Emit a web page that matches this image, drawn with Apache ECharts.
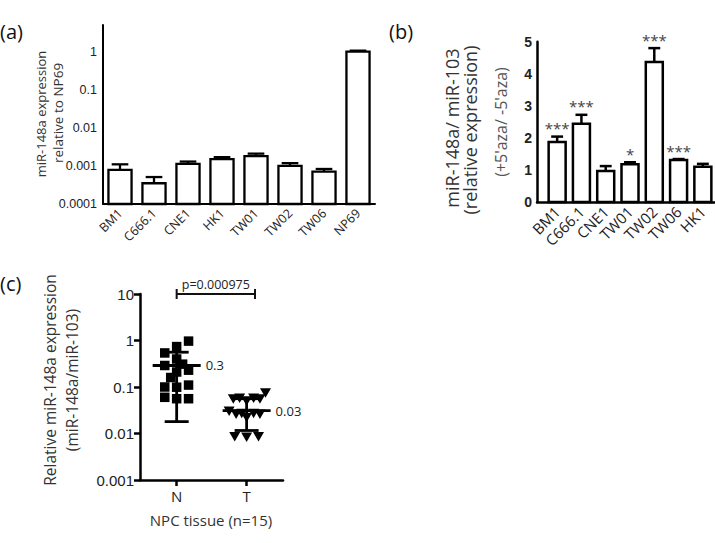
<!DOCTYPE html>
<html><head><meta charset="utf-8">
<script src="https://cdn.jsdelivr.net/npm/echarts@6/dist/echarts.min.js"></script>
<style>html,body{margin:0;padding:0;background:#fff}#c{width:715px;height:543px}</style>
</head><body><div id="c"></div>
<script>
// ---------- Panel (a) ----------
const aCategories = ['BM1','C666.1','CNE1','HK1','TW01','TW02','TW06','NP69'];
const aValues     = [0.00079,0.00035,0.00113,0.0015,0.0018,0.001,0.00071,1.0];
const aErrorTop   = [0.0011,0.00051,0.0013,0.0017,0.0021,0.00118,0.00083,1.06];
const aTicks      = [0.0001,0.001,0.01,0.1,1];
const aYTitle     = ['miR-148a expression','relative to NP69'];

// ---------- Panel (b) ----------
const bCategories = ['BM1','C666.1','CNE1','TW01','TW02','TW06','HK1'];
const bValues     = [1.87,2.44,0.97,1.18,4.37,1.31,1.10];
const bErrorTop   = [2.04,2.72,1.12,1.24,4.80,1.34,1.19];
const bStars      = ['***','***','','*','***','***',''];
const bYTitle     = ['miR-148a/ miR-103','(relative expression)','(+5\'aza/ -5\'aza)'];

// ---------- Panel (c) ----------
const cCategories = ['N','T'];
const cNValues = [0.97,0.74,0.54,0.40,0.29,0.31,0.23,0.21,0.16,0.10,0.099,0.11,0.06,0.056,0.056];
const cNSpread = [0.17,0,-0.17,0,-0.17,0.085,0.17,0,-0.085,-0.17,0,0.17,-0.17,0,0.17];
const cTValues = [0.074,0.055,0.057,0.05,0.057,0.055,0.03,0.026,0.027,0.022,0.027,0.026,0.0085,0.0083,0.0085];
const cTSpread = [0.27,-0.19,-0.1,0,0.1,0.19,-0.25,-0.15,-0.07,0,0.1,0.19,-0.17,0,0.17];
const cMeans   = [0.29,0.031];
const cSdLow   = [0.018,0.0116];
const cSdHigh  = [0.56,0.056];
const cMeanLabels = ['0.3','0.03'];
const cPText   = 'p=0.000975';
const cBracket = [0,1.12,10];
const cYTitle  = ['Relative miR-148a expression','(miR-148a/miR-103)'];
const cXTitle  = 'NPC tissue (n=15)';

const SANS = '"Open Sans", sans-serif';
const ARIAL = '"Liberation Sans", Arial, sans-serif';
const TXT = '#222';
const TITLE = '#333';

function logLabel(v){ return String(+(+v).toPrecision(1)); }

function barErrRender(capFrac, lw, barFrac, minVal, stars){
  return function(params, api){
    const i = api.value(0);
    const top = api.coord([i, api.value(1)]);
    const err = api.coord([i, api.value(2)]);
    const bot = api.coord([i, minVal]);
    const band = Math.abs(api.coord([1, api.value(1)])[0] - api.coord([0, api.value(1)])[0]);
    const w = band * barFrac, cw = w * capFrac;
    const children = [
      {type:'line', shape:{x1:err[0],y1:top[1],x2:err[0],y2:err[1]}, style:{stroke:'#000',lineWidth:lw}},
      {type:'line', shape:{x1:err[0]-cw/2,y1:err[1],x2:err[0]+cw/2,y2:err[1]}, style:{stroke:'#000',lineWidth:lw}},
      {type:'rect', shape:{x:top[0]-w/2,y:top[1],width:w,height:bot[1]-top[1]}, style:{fill:'#fff',stroke:'#000',lineWidth:lw}}
    ];
    if (stars && stars[params.dataIndex]) {
      children.push({type:'text', x:err[0], y:err[1]-1, style:{text:stars[params.dataIndex], align:'center', verticalAlign:'bottom', textAlign:'center', textVerticalAlign:'bottom', font:'15px '+SANS, fill:'#444'}});
    }
    return {type:'group', children};
  };
}

const chart = echarts.init(document.getElementById('c'), null, {renderer:'svg', width:715, height:543});

function rotText(x, y, text, size, fill){
  return {type:'text', x, y, rotation:Math.PI/2, style:{text, font:size+'px '+SANS, fill, align:'center', verticalAlign:'middle', textAlign:'center', textVerticalAlign:'middle'}};
}
function plainText(x, y, text, size){
  return {type:'text', x, y, style:{text, font:size+'px '+SANS, fill:'#111', align:'left', verticalAlign:'middle'}};
}

const axisLineBlack = (w)=>({show:true, onZero:false, lineStyle:{color:'#000', width:w}});

chart.setOption({
  animation:false,
  backgroundColor:'#fff',
  grid:[
    {left:103, top:25, width:272, height:179, outerBoundsMode:'none'},
    {left:545, top:41.7, width:170, height:160.3, outerBoundsMode:'none'},
    {left:537, top:41.7, width:178, height:160.3, outerBoundsMode:'none'},
    {left:140, top:294, width:143, height:186, outerBoundsMode:'none'}
  ],
  xAxis:[
    {type:'category', gridIndex:0, data:aCategories, axisLine:axisLineBlack(2),
     axisTick:{alignWithLabel:true, length:5, lineStyle:{color:'#000',width:2}},
     axisLabel:{rotate:45, margin:7, fontSize:12.5, fontFamily:SANS, color:TXT, interval:0}},
    {type:'category', gridIndex:1, data:bCategories, axisLine:{show:false},
     axisTick:{alignWithLabel:true, length:5, lineStyle:{color:'#000',width:2.5}},
     axisLabel:{rotate:45, margin:7, fontSize:15, fontFamily:SANS, color:TXT, interval:0}},
    {type:'value', gridIndex:2, min:0, max:1, axisLine:axisLineBlack(2.5), axisTick:{show:false}, axisLabel:{show:false}, splitLine:{show:false}},
    {type:'value', gridIndex:3, min:-0.524, max:1.52, axisLine:axisLineBlack(2.5),
     axisTick:{length:6, lineStyle:{color:'#000',width:2.5}, customValues:[0,1]},
     axisLabel:{customValues:[0,1], formatter:(v)=>cCategories[Math.round(v)], fontSize:15, fontFamily:SANS, color:TXT, margin:8},
     splitLine:{show:false}}
  ],
  yAxis:[
    {type:'log', logBase:10, gridIndex:0, min:0.0001, max:5, axisLine:axisLineBlack(2),
     axisTick:{length:5, lineStyle:{color:'#000',width:2}, customValues:aTicks},
     axisLabel:{customValues:aTicks, formatter:logLabel, fontSize:12.5, fontFamily:ARIAL, color:TXT, margin:6},
     splitLine:{show:false}, minorTick:{show:false}},
    {type:'value', gridIndex:1, min:0, max:5, interval:1, offset:8, axisLine:axisLineBlack(2.5),
     axisTick:{length:5, lineStyle:{color:'#000',width:2.5}},
     axisLabel:{fontSize:14, fontWeight:'bold', fontFamily:ARIAL, color:TXT, margin:5},
     splitLine:{show:false}},
    {type:'value', gridIndex:2, min:0, max:5, show:false},
    {type:'log', logBase:10, gridIndex:3, min:0.001, max:10, axisLine:axisLineBlack(2.5),
     axisTick:{length:6, lineStyle:{color:'#000',width:2.5}},
     axisLabel:{formatter:logLabel, fontSize:15, fontFamily:ARIAL, color:TXT, margin:6},
     splitLine:{show:false}, minorTick:{show:false}}
  ],
  series:[
    {type:'custom', name:'a', xAxisIndex:0, yAxisIndex:0, clip:false,
     encode:{x:0, y:[1,2]},
     data:aValues.map((v,i)=>[i, v, aErrorTop[i]]),
     renderItem:barErrRender(0.72, 2.3, 0.68, aTicks[0], null)},
    {type:'custom', name:'b', xAxisIndex:1, yAxisIndex:1, clip:false,
     encode:{x:0, y:[1,2]},
     data:bValues.map((v,i)=>[i, v, bErrorTop[i]]),
     renderItem:barErrRender(0.7, 2.5, 0.7, 0, bStars)},
    {type:'scatter', name:'N', xAxisIndex:3, yAxisIndex:3, symbol:'rect', symbolSize:9.5,
     itemStyle:{color:'#000', opacity:1}, z:3,
     data:cNValues.map((v,k)=>[0 + cNSpread[k], v])},
    {type:'scatter', name:'T', xAxisIndex:3, yAxisIndex:3, symbol:'triangle', symbolRotate:180, symbolSize:[11,9.5],
     itemStyle:{color:'#000', opacity:1}, z:3,
     data:cTValues.map((v,k)=>[1 + cTSpread[k], v])},
    {type:'custom', name:'meanSD', xAxisIndex:3, yAxisIndex:3, clip:false, z:4,
     encode:{x:0, y:[1,2,3]},
     data:cMeans.map((m,i)=>[i, m, cSdLow[i], cSdHigh[i]]),
     renderItem:function(params, api){
       const x = api.value(0);
       const m = api.coord([x, api.value(1)]);
       const lo = api.coord([x, api.value(2)]);
       const hi = api.coord([x, api.value(3)]);
       const st = {stroke:'#000', lineWidth:2.8};
       return {type:'group', children:[
         {type:'line', shape:{x1:m[0]-24,y1:m[1],x2:m[0]+24,y2:m[1]}, style:st},
         {type:'line', shape:{x1:m[0],y1:lo[1],x2:m[0],y2:hi[1]}, style:st},
         {type:'line', shape:{x1:m[0]-12,y1:lo[1],x2:m[0]+12,y2:lo[1]}, style:st},
         {type:'line', shape:{x1:m[0]-12,y1:hi[1],x2:m[0]+12,y2:hi[1]}, style:st},
         {type:'text', x:m[0]+29, y:m[1], style:{text:cMeanLabels[params.dataIndex], font:'13px '+SANS, fill:TXT, align:'left', verticalAlign:'middle', textAlign:'left', textVerticalAlign:'middle'}}
       ]};
     }},
    {type:'custom', name:'bracket', xAxisIndex:3, yAxisIndex:3, clip:false, z:4,
     encode:{x:[0,1], y:2},
     data:[cBracket],
     renderItem:function(params, api){
       const l = api.coord([api.value(0), api.value(2)]);
       const r = api.coord([api.value(1), api.value(2)]);
       const st = {stroke:'#111', lineWidth:2};
       return {type:'group', children:[
         {type:'line', shape:{x1:l[0],y1:l[1],x2:r[0],y2:r[1]}, style:st},
         {type:'line', shape:{x1:l[0],y1:l[1]-5,x2:l[0],y2:l[1]+5}, style:st},
         {type:'line', shape:{x1:r[0],y1:r[1]-5,x2:r[0],y2:r[1]+5}, style:st},
         {type:'text', x:(l[0]+r[0])/2, y:l[1]-3, style:{text:cPText, font:'12.5px '+SANS, fill:TXT, align:'center', verticalAlign:'bottom', textAlign:'center', textVerticalAlign:'bottom'}}
       ]};
     }}
  ],
  graphic:[
    plainText(0, 31, '(a)', 20),
    plainText(389, 31, '(b)', 20),
    plainText(0, 283, '(c)', 20),
    rotText(41, 114, aYTitle[0], 13, TITLE),
    rotText(58, 113, aYTitle[1], 13.5, TITLE),
    rotText(452, 128, bYTitle[0], 18, TITLE),
    rotText(470, 130, bYTitle[1], 18, TITLE),
    rotText(501, 122, bYTitle[2], 16, '#555'),
    rotText(50, 380, cYTitle[0], 15.5, TITLE),
    rotText(72, 380, cYTitle[1], 15.5, TITLE),
    {type:'text', x:211, y:520, style:{text:cXTitle, font:'15px '+SANS, fill:TITLE, align:'center', verticalAlign:'middle', textAlign:'center', textVerticalAlign:'middle'}}
  ]
});
</script></body></html>
